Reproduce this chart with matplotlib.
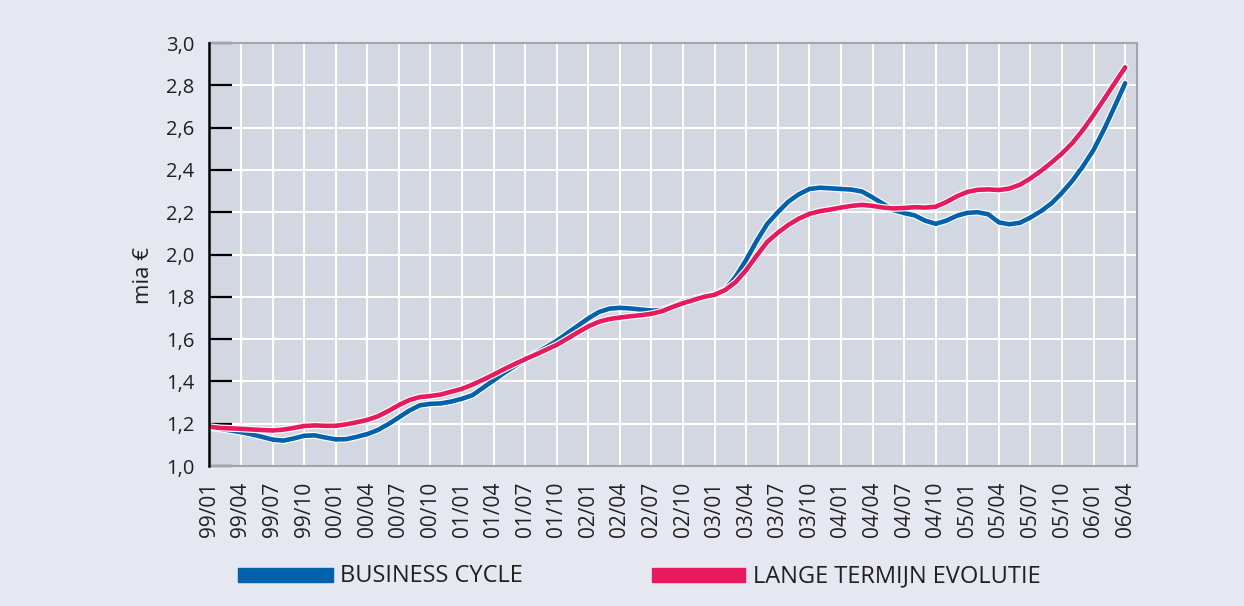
import matplotlib
matplotlib.use("Agg")
import matplotlib.pyplot as plt
import matplotlib.patheffects as pe
from matplotlib.patches import Rectangle

plt.rcParams['font.family'] = ['Open Sans', 'DejaVu Sans']

# monthly values, 99/01 .. 06/04 (mia EUR)
business_cycle = [
    1.183, 1.176, 1.168, 1.160, 1.150, 1.138, 1.125, 1.120, 1.130, 1.143,
    1.145, 1.135, 1.126, 1.127, 1.138, 1.151, 1.170, 1.198, 1.230, 1.262,
    1.287, 1.294, 1.296, 1.305, 1.318, 1.335, 1.370, 1.405, 1.440, 1.472,
    1.502, 1.533, 1.562, 1.592, 1.628, 1.663, 1.698, 1.728, 1.744, 1.748,
    1.745, 1.740, 1.735, 1.738, 1.755, 1.777, 1.790, 1.803, 1.812, 1.835,
    1.895, 1.975, 2.065, 2.145, 2.200, 2.250, 2.285, 2.310, 2.316, 2.313,
    2.310, 2.307, 2.298, 2.270, 2.240, 2.210, 2.196, 2.185, 2.160, 2.145,
    2.160, 2.183, 2.197, 2.200, 2.190, 2.152, 2.143, 2.150, 2.175, 2.205,
    2.242, 2.292, 2.350, 2.418, 2.495, 2.592, 2.700, 2.810,
]
lange_termijn = [
    1.186, 1.180, 1.178, 1.176, 1.173, 1.170, 1.168, 1.172, 1.180, 1.189,
    1.192, 1.190, 1.190, 1.197, 1.207, 1.218, 1.235, 1.260, 1.288, 1.312,
    1.326, 1.331, 1.338, 1.352, 1.365, 1.385, 1.408, 1.432, 1.458, 1.482,
    1.505, 1.527, 1.550, 1.573, 1.602, 1.632, 1.660, 1.682, 1.695, 1.702,
    1.708, 1.713, 1.720, 1.732, 1.752, 1.770, 1.785, 1.800, 1.810, 1.832,
    1.870, 1.927, 1.995, 2.060, 2.103, 2.140, 2.170, 2.192, 2.205, 2.213,
    2.222, 2.230, 2.235, 2.230, 2.222, 2.218, 2.220, 2.224, 2.222, 2.226,
    2.248, 2.275, 2.296, 2.306, 2.308, 2.305, 2.312, 2.330, 2.360, 2.395,
    2.435, 2.478, 2.528, 2.590, 2.660, 2.735, 2.810, 2.885,
]
quarter_labels = []
for yy in ['99', '00', '01', '02', '03', '04', '05', '06']:
    for mm in ['01', '04', '07', '10']:
        quarter_labels.append(yy + '/' + mm)
quarter_labels = quarter_labels[:30]
y_ticks = [1.0, 1.2, 1.4, 1.6, 1.8, 2.0, 2.2, 2.4, 2.6, 2.8, 3.0]

BG = '#e5e8f0'
PANEL = '#d3d7e2'
BLUE = '#0061ad'
RED = '#e9195e'
TXT = '#231f20'

fig = plt.figure(figsize=(12.44, 6.06), dpi=100, facecolor=BG)
ax = fig.add_axes([0.1683, 0.2310, 0.7455, 0.698])
ax.set_facecolor(PANEL)

months = list(range(len(business_cycle)))
for vals, col in [(business_cycle, BLUE), (lange_termijn, RED)]:
    ax.plot(months, vals, color=col, lw=3.3, solid_capstyle='round', zorder=3,
            path_effects=[pe.Stroke(linewidth=5.0, foreground='white'), pe.Normal()])

ax.set_xlim(0, 88.1)
ax.set_ylim(1.0, 3.0)
ax.set_xticks([3 * i for i in range(30)])
ax.set_xticklabels(quarter_labels, rotation=90, fontsize=15, color=TXT)
ax.set_yticks(y_ticks)
ax.set_yticklabels([('%.1f' % v).replace('.', ',') for v in y_ticks], fontsize=14.5, color=TXT)
ax.grid(True, color='white', lw=1.5, zorder=1)
ax.set_axisbelow(True)

ax.tick_params(axis='x', length=0, pad=11)
ax.tick_params(axis='y', direction='in', length=16.5, width=1.6, color='black', pad=11)
for s in ['top', 'right', 'bottom']:
    ax.spines[s].set_color('#a3a5aa')
    ax.spines[s].set_linewidth(1.5)
ax.spines['left'].set_color('black')
ax.spines['left'].set_linewidth(1.8)
ax.spines['left'].set_zorder(4)

ax.set_ylabel('mia €', fontsize=16, color=TXT)
ax.yaxis.set_label_coords(-0.06, 0.45)

# legend
fig.add_artist(Rectangle((238 / 1244, 1 - 582 / 606), 95 / 1244, 14 / 606,
                         transform=fig.transFigure, color=BLUE))
fig.text(340 / 1244, 1 - 576 / 606, 'BUSINESS CYCLE', fontsize=17, color=TXT, va='center')
fig.add_artist(Rectangle((652 / 1244, 1 - 582 / 606), 93 / 1244, 14 / 606,
                         transform=fig.transFigure, color=RED))
fig.text(753 / 1244, 1 - 576 / 606, 'LANGE TERMIJN EVOLUTIE', fontsize=17, color=TXT, va='center')

fig.savefig('out.png', dpi=100, facecolor=BG)
